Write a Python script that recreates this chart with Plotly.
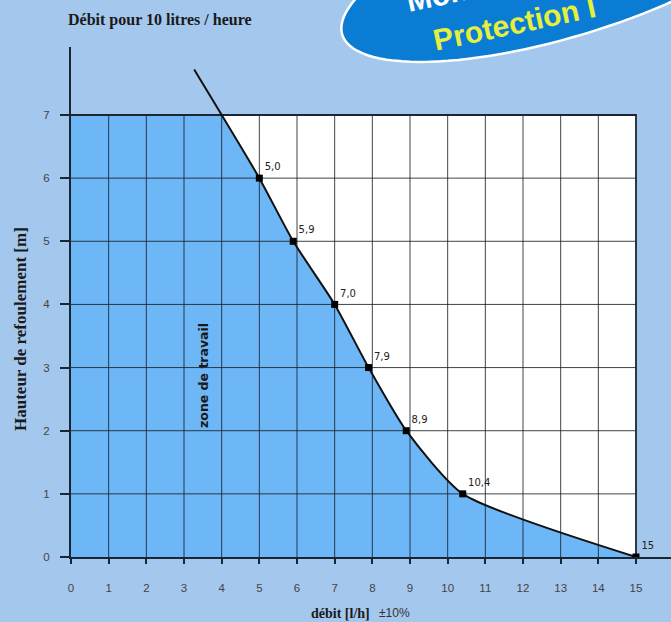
import numpy as np
import plotly.graph_objects as go

# ---------------- data ----------------
debit = [5.0, 5.9, 7.0, 7.9, 8.9, 10.4, 15.0]          # l/h
hauteur = [6, 5, 4, 3, 2, 1, 0]                         # m
point_labels = ["5,0", "5,9", "7,0", "7,9", "8,9", "10,4", "15"]
curve_start_x = [3.27]
curve_start_y = [7.72]
x_ticks = list(range(0, 16))
y_ticks = list(range(0, 8))
grid_x_max = 15
grid_y_max = 7

# ---------------- geometry ----------------
W, H = 671, 622
L, R, T, B = 71, 0, 47, 65
pw, ph = W - L - R, H - T - B
x_unit = 565 / 15.0
y_unit = 442 / 7.0
x_range = [0, pw / x_unit]
y_range = [0, ph / y_unit]

def px(xp):
    return (xp - L) / pw

def py(yp):
    return (H - B - yp) / ph

BG = "#a4c7ee"
BLUE = "#6db7f7"
DARK = "#1b2633"

# x where curve enters the y=7 box
x_top = float(np.interp(grid_y_max, [hauteur[0], curve_start_y[0]], [debit[0], curve_start_x[0]]))

fig = go.Figure()

# blue working zone under the curve
fig.add_trace(go.Scatter(
    x=[x_top] + debit, y=[grid_y_max] + hauteur,
    mode="lines", line=dict(width=0, shape="spline", smoothing=0.6),
    fill="tozeroy", fillcolor=BLUE, hoverinfo="skip", showlegend=False))

# grid lines
gx, gy = [], []
for v in x_ticks[1:-1]:
    gx += [v, v, None]
    gy += [0, grid_y_max, None]
for v in y_ticks[1:-1]:
    gx += [0, grid_x_max, None]
    gy += [v, v, None]
fig.add_trace(go.Scatter(x=gx, y=gy, mode="lines",
                         line=dict(color="rgba(22,28,38,0.82)", width=1),
                         hoverinfo="skip", showlegend=False))
# box border (top and right)
fig.add_trace(go.Scatter(x=[0, grid_x_max, grid_x_max], y=[grid_y_max, grid_y_max, 0],
                         mode="lines", line=dict(color=DARK, width=1.8),
                         hoverinfo="skip", showlegend=False))

# curve
fig.add_trace(go.Scatter(
    x=curve_start_x + debit, y=curve_start_y + hauteur, mode="lines",
    line=dict(color="#111111", width=2, shape="spline", smoothing=0.6),
    hoverinfo="skip", showlegend=False))

# points with labels
fig.add_trace(go.Scatter(
    x=debit, y=hauteur, mode="markers+text",
    marker=dict(symbol="square", size=7, color="#000000"),
    text=point_labels, textposition="top right",
    textfont=dict(family="DejaVu Sans", size=10, color="#222222"),
    showlegend=False))

shapes = [
    dict(type="rect", xref="x", yref="y", x0=0, x1=grid_x_max, y0=0, y1=grid_y_max,
         fillcolor="white", line=dict(width=0), layer="below"),
    dict(type="rect", xref="x", yref="y", x0=0, x1=x_top + 0.02, y0=0, y1=grid_y_max,
         fillcolor=BLUE, line=dict(width=0), layer="below"),
]

# decorative ellipse (top right)
cx, cy, ea, eb, th = 567, -34, 235, 70, np.deg2rad(17)
t = np.linspace(0, 2 * np.pi, 120)
ex = cx + ea * np.cos(t) * np.cos(th) + eb * np.sin(t) * np.sin(th)
ey = cy - ea * np.cos(t) * np.sin(th) + eb * np.sin(t) * np.cos(th)
path = "M " + " L ".join(f"{px(a):.4f},{py(b):.4f}" for a, b in zip(ex, ey)) + " Z"
shapes.append(dict(type="path", xref="paper", yref="paper", path=path,
                   fillcolor="#0b7cd4", line=dict(color="white", width=2.5), layer="above"))

annotations = [
    dict(text="<b>Débit pour 10 litres / heure</b>", x=px(160), y=py(20), xref="paper", yref="paper",
         showarrow=False, xanchor="center", yanchor="middle",
         font=dict(family="Liberation Serif", size=16, color="#1a1a1a")),
    dict(text="<b>Hauteur de refoulement [m]</b>", x=px(20), y=py(329), xref="paper", yref="paper",
         showarrow=False, textangle=-90, xanchor="center", yanchor="middle",
         font=dict(family="Liberation Serif", size=17, color="#1a1a1a")),
    dict(text="<b>débit [l/h]</b>", x=px(372), y=py(613), xref="paper", yref="paper",
         showarrow=False, xanchor="right", yanchor="middle",
         font=dict(family="Liberation Serif", size=14, color="#1a1a1a")),
    dict(text="±10%", x=px(377), y=py(613), xref="paper", yref="paper",
         showarrow=False, xanchor="left", yanchor="middle",
         font=dict(family="Liberation Sans", size=12, color="#333333")),
    dict(text="<b>zone de travail</b>", x=3.5, y=2.88, xref="x", yref="y",
         showarrow=False, textangle=-90, xanchor="center", yanchor="middle",
         font=dict(family="DejaVu Sans", size=12.5, color="#1a1a1a")),
    dict(text="<b>Protection I</b>", x=px(514), y=py(24), xref="paper", yref="paper",
         showarrow=False, textangle=-12, xanchor="center", yanchor="middle",
         font=dict(family="Liberation Sans", size=30, color="#e4ef3e")),
    dict(text="<b>Mono</b>", x=px(446), y=py(-6), xref="paper", yref="paper",
         showarrow=False, textangle=-12, xanchor="center", yanchor="middle",
         font=dict(family="Liberation Sans", size=30, color="#ffffff")),
]

fig.update_layout(
    width=W, height=H,
    margin=dict(l=L, r=R, t=T, b=B, autoexpand=False),
    paper_bgcolor=BG, plot_bgcolor="rgba(0,0,0,0)",
    shapes=shapes, annotations=annotations,
    xaxis=dict(range=x_range, tickvals=x_ticks, showgrid=False, zeroline=False,
               showline=True, linecolor=DARK, linewidth=2,
               ticks="outside", ticklen=5, tickwidth=1.5, tickcolor=DARK,
               ticklabelstandoff=14,
               tickfont=dict(family="Liberation Sans", size=11.5, color="#444444"),
               fixedrange=True),
    yaxis=dict(range=y_range, tickvals=y_ticks, showgrid=False, zeroline=False,
               showline=True, linecolor=DARK, linewidth=2,
               ticks="outside", ticklen=9, tickwidth=1.5, tickcolor=DARK,
               ticklabelstandoff=8,
               tickfont=dict(family="Liberation Sans", size=11.5, color="#444444"),
               fixedrange=True),
    showlegend=False,
)

fig.write_html(
    "out.html",
    config={"displayModeBar": False},
    post_script="document.body.style.margin='0';document.body.style.overflow='hidden';",
)
